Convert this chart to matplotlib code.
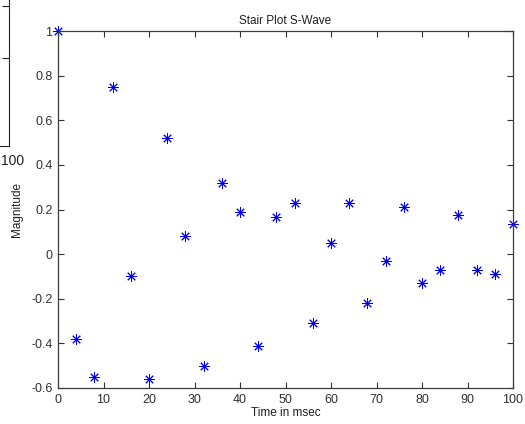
import numpy as np
import matplotlib
matplotlib.use('Agg')
import matplotlib.pyplot as plt

plt.rcParams['font.family'] = ['Liberation Sans', 'DejaVu Sans']

# sample times (msec) and magnitudes
t = [0, 4, 8, 12, 16, 20, 24, 28, 32, 36, 40, 44, 48, 52,
     56, 60, 64, 68, 72, 76, 80, 84, 88, 92, 96, 100]
mag = [1.0, -0.38, -0.55, 0.75, -0.10, -0.56, 0.52, 0.08, -0.50, 0.32,
       0.19, -0.41, 0.165, 0.23, -0.31, 0.05, 0.23, -0.22, -0.03, 0.21,
       -0.13, -0.07, 0.175, -0.07, -0.09, 0.135]
xticks = [0, 10, 20, 30, 40, 50, 60, 70, 80, 90, 100]
yticks = [-0.6, -0.4, -0.2, 0, 0.2, 0.4, 0.6, 0.8, 1]
ylabels = ['-0.6', '-0.4', '-0.2', '0', '0.2', '0.4', '0.6', '0.8', '1']

W, H = 525, 424
fig = plt.figure(figsize=(W/100, H/100), dpi=100)
fig.patch.set_facecolor('white')

axcol = '#3c3c3c'

# cut-off neighbour subplot on the left edge
ax0 = fig.add_axes([-0.3, 1 - 146/H, 0.3 + 9/W, 146/H + 0.05])
ax0.set_xlim(0, 100)
ax0.set_ylim(0, 1)
ax0.set_xticks([])
ax0.set_yticks([1 - 31/191, 1 - 90/191])
ax0.tick_params(axis='y', left=False, right=True, labelleft=False,
                direction='in', length=5, color='#2a1e1e')
for s in ax0.spines.values():
    s.set_color('#2a1e1e')
fig.text(0.5/W, 1 - 161/H, '100', ha='left', va='center', fontsize=10,
         color='#202020')

# main axes
ax = fig.add_axes([58/W, (H - 388)/H, 455/W, 357/H])
ax.plot(t, mag, linestyle='none', marker=(8, 2, 0), color='#0000ee',
        markersize=7.5, markeredgewidth=0.7, clip_on=False)
ax.set_xlim(0, 100)
ax.set_ylim(-0.6, 1)
ax.set_xticks(xticks)
ax.set_yticks(yticks)
ax.set_yticklabels(ylabels)
ax.tick_params(direction='in', length=4, top=True, right=True,
               labelsize=9, colors='#303030', pad=4, width=0.8)
for s in ax.spines.values():
    s.set_color(axcol)
    s.set_linewidth(0.9)

ax.set_title('Stair Plot S-Wave', fontsize=8.5, pad=5, color='#202020')
ax.set_xlabel('Time in msec', fontsize=8.5, labelpad=1, color='#202020')
ax.set_ylabel('Magnitude', fontsize=8.5, labelpad=6, color='#202020')

fig.savefig('out.png', dpi=100)
